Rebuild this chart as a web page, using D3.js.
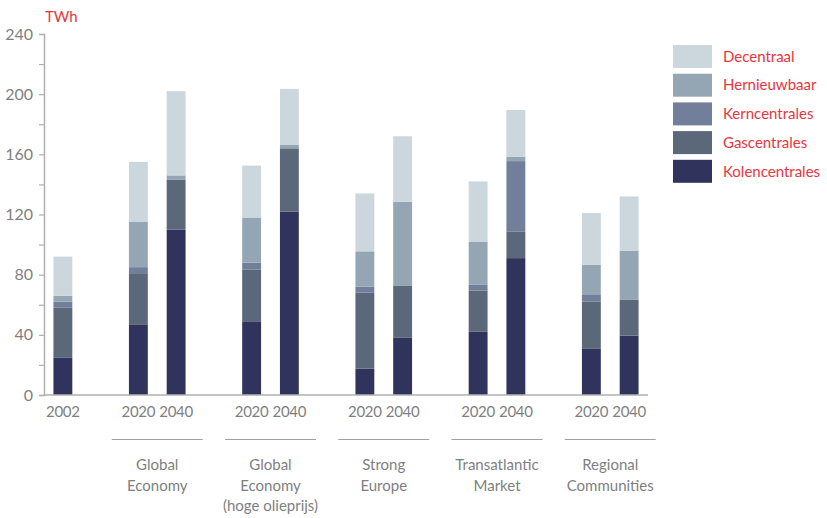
<!DOCTYPE html>
<html>
<head>
<meta charset="utf-8">
<script src="https://cdn.jsdelivr.net/npm/d3@7"></script>
<style>
  html, body { margin: 0; padding: 0; background: #fff; }
  svg { display: block; }
  text { font-family: Lato, "Open Sans", sans-serif; }
</style>
</head>
<body>
<svg id="chart" width="827" height="518"></svg>
<script>
// ---- data ----
const baseYear = "2002";
const scenarioYears = ["2020", "2040"];
const scenarioLabels = [
  ["Global", "Economy"],
  ["Global", "Economy", "(hoge olieprijs)"],
  ["Strong", "Europe"],
  ["Transatlantic", "Market"],
  ["Regional", "Communities"]
];
const seriesNames = ["Kolencentrales", "Gascentrales", "Kerncentrales", "Hernieuwbaar", "Decentraal"];
// bar order: 2002, then (2020, 2040) per scenario
const kolencentrales = [25, 47, 110, 49, 122, 17.5, 38, 42, 91, 31, 39.5];
const gascentrales   = [33, 34, 33, 34.5, 42, 50.5, 34.5, 27.5, 17.5, 31, 24];
const kerncentrales  = [4, 4, 0, 4.5, 0, 4, 0, 4, 47, 4.5, 0];
const hernieuwbaar   = [4, 30, 3, 30, 2.5, 23.5, 56, 28.5, 3, 20, 32.5];
const decentraal     = [26, 40, 56, 34.5, 37, 38.5, 43.5, 40, 31, 34.5, 36];
const yTicks = [0, 20, 40, 60, 80, 100, 120, 140, 160, 180, 200, 220, 240];
const colors = ["#30345d", "#5a6879", "#717f9b", "#94a6b4", "#cbd6dd"];

// ---- build bar records ----
const bars = [{ key: "base", year: baseYear, group: -1 }];
scenarioLabels.forEach((lab, gi) => {
  scenarioYears.forEach(y => bars.push({ key: "s" + gi + "-" + y, year: y, group: gi }));
});
const seriesArrays = [kolencentrales, gascentrales, kerncentrales, hernieuwbaar, decentraal];
bars.forEach((b, i) => seriesNames.forEach((s, si) => { b[s] = seriesArrays[si][i]; }));

// slot domain with spacer slots before each scenario
const slots = ["base"];
scenarioLabels.forEach((lab, gi) => {
  slots.push("gap" + gi);
  scenarioYears.forEach(y => slots.push("s" + gi + "-" + y));
});

const svg = d3.select("#chart");
const x = d3.scaleBand().domain(slots).range([44, 648]).paddingInner(0.5).paddingOuter(0.25);
const y = d3.scaleLinear().domain([0, 240]).range([395, 34]);
const color = d3.scaleOrdinal().domain(seriesNames).range(colors);

const stack = d3.stack().keys(seriesNames);
const layers = stack(bars);

svg.append("g").selectAll("g").data(layers).join("g")
  .attr("fill", d => color(d.key))
  .selectAll("rect").data(d => d).join("rect")
  .attr("x", d => x(d.data.key))
  .attr("width", x.bandwidth())
  .attr("y", d => y(d[1]))
  .attr("height", d => y(d[0]) - y(d[1]));

// y axis
const yAxis = d3.axisLeft(y).tickValues(yTicks).tickSize(5).tickPadding(6)
  .tickFormat(d => d % 40 === 0 ? d : "");
const gy = svg.append("g").attr("transform", "translate(44,0)").call(yAxis);
gy.select(".domain").attr("stroke", "#b0b0b0").attr("stroke-width", 1.5);
gy.selectAll(".tick line").attr("stroke", "#b0b0b0").attr("stroke-width", 1.2);
gy.selectAll(".tick text").attr("fill", "#7f7f7f").style("font-size", "16px")
  .style("font-family", "Lato, sans-serif");

// x baseline
svg.append("line").attr("x1", 44).attr("x2", 648).attr("y1", y(0)).attr("y2", y(0))
  .attr("stroke", "#b0b0b0").attr("stroke-width", 1.5);

// year labels
svg.append("g").selectAll("text").data(bars).join("text")
  .attr("x", d => x(d.key) + x.bandwidth() / 2)
  .attr("y", 412)
  .attr("dy", "0.35em")
  .attr("text-anchor", "middle")
  .attr("fill", "#7f7f7f")
  .style("font-size", "15px")
  .style("letter-spacing", "-0.3px")
  .text(d => d.year);

// group underline and labels
scenarioLabels.forEach((lab, gi) => {
  const x0 = x("s" + gi + "-" + scenarioYears[0]);
  const x1 = x("s" + gi + "-" + scenarioYears[1]) + x.bandwidth();
  const cx = (x0 + x1) / 2;
  svg.append("line").attr("x1", cx - 45.5).attr("x2", cx + 45.5)
    .attr("y1", 439.5).attr("y2", 439.5).attr("stroke", "#a0a0a0").attr("stroke-width", 1.2);
  const t = svg.append("text").attr("text-anchor", "middle").attr("fill", "#7f7f7f")
    .style("font-size", "15px");
  lab.forEach((line, li) => {
    t.append("tspan").attr("x", cx).attr("y", 465 + li * 20.5).attr("dy", "0.35em").text(line);
  });
});

// unit label
svg.append("text").attr("x", 45).attr("y", 17).attr("dy", "0.35em")
  .attr("fill", "#e8353e").style("font-size", "15px").text("TWh");

// legend (top to bottom: Decentraal ... Kolencentrales)
const legendItems = seriesNames.slice().reverse();
const lg = svg.append("g").selectAll("g").data(legendItems).join("g")
  .attr("transform", (d, i) => `translate(673, ${45 + i * 28.7})`);
lg.append("rect").attr("width", 39).attr("height", 23).attr("fill", d => color(d));
lg.append("text").attr("x", 50).attr("y", 11.5).attr("dy", "0.35em")
  .attr("fill", "#e8353e").style("font-size", "15px").text(d => d);
</script>
</body>
</html>
